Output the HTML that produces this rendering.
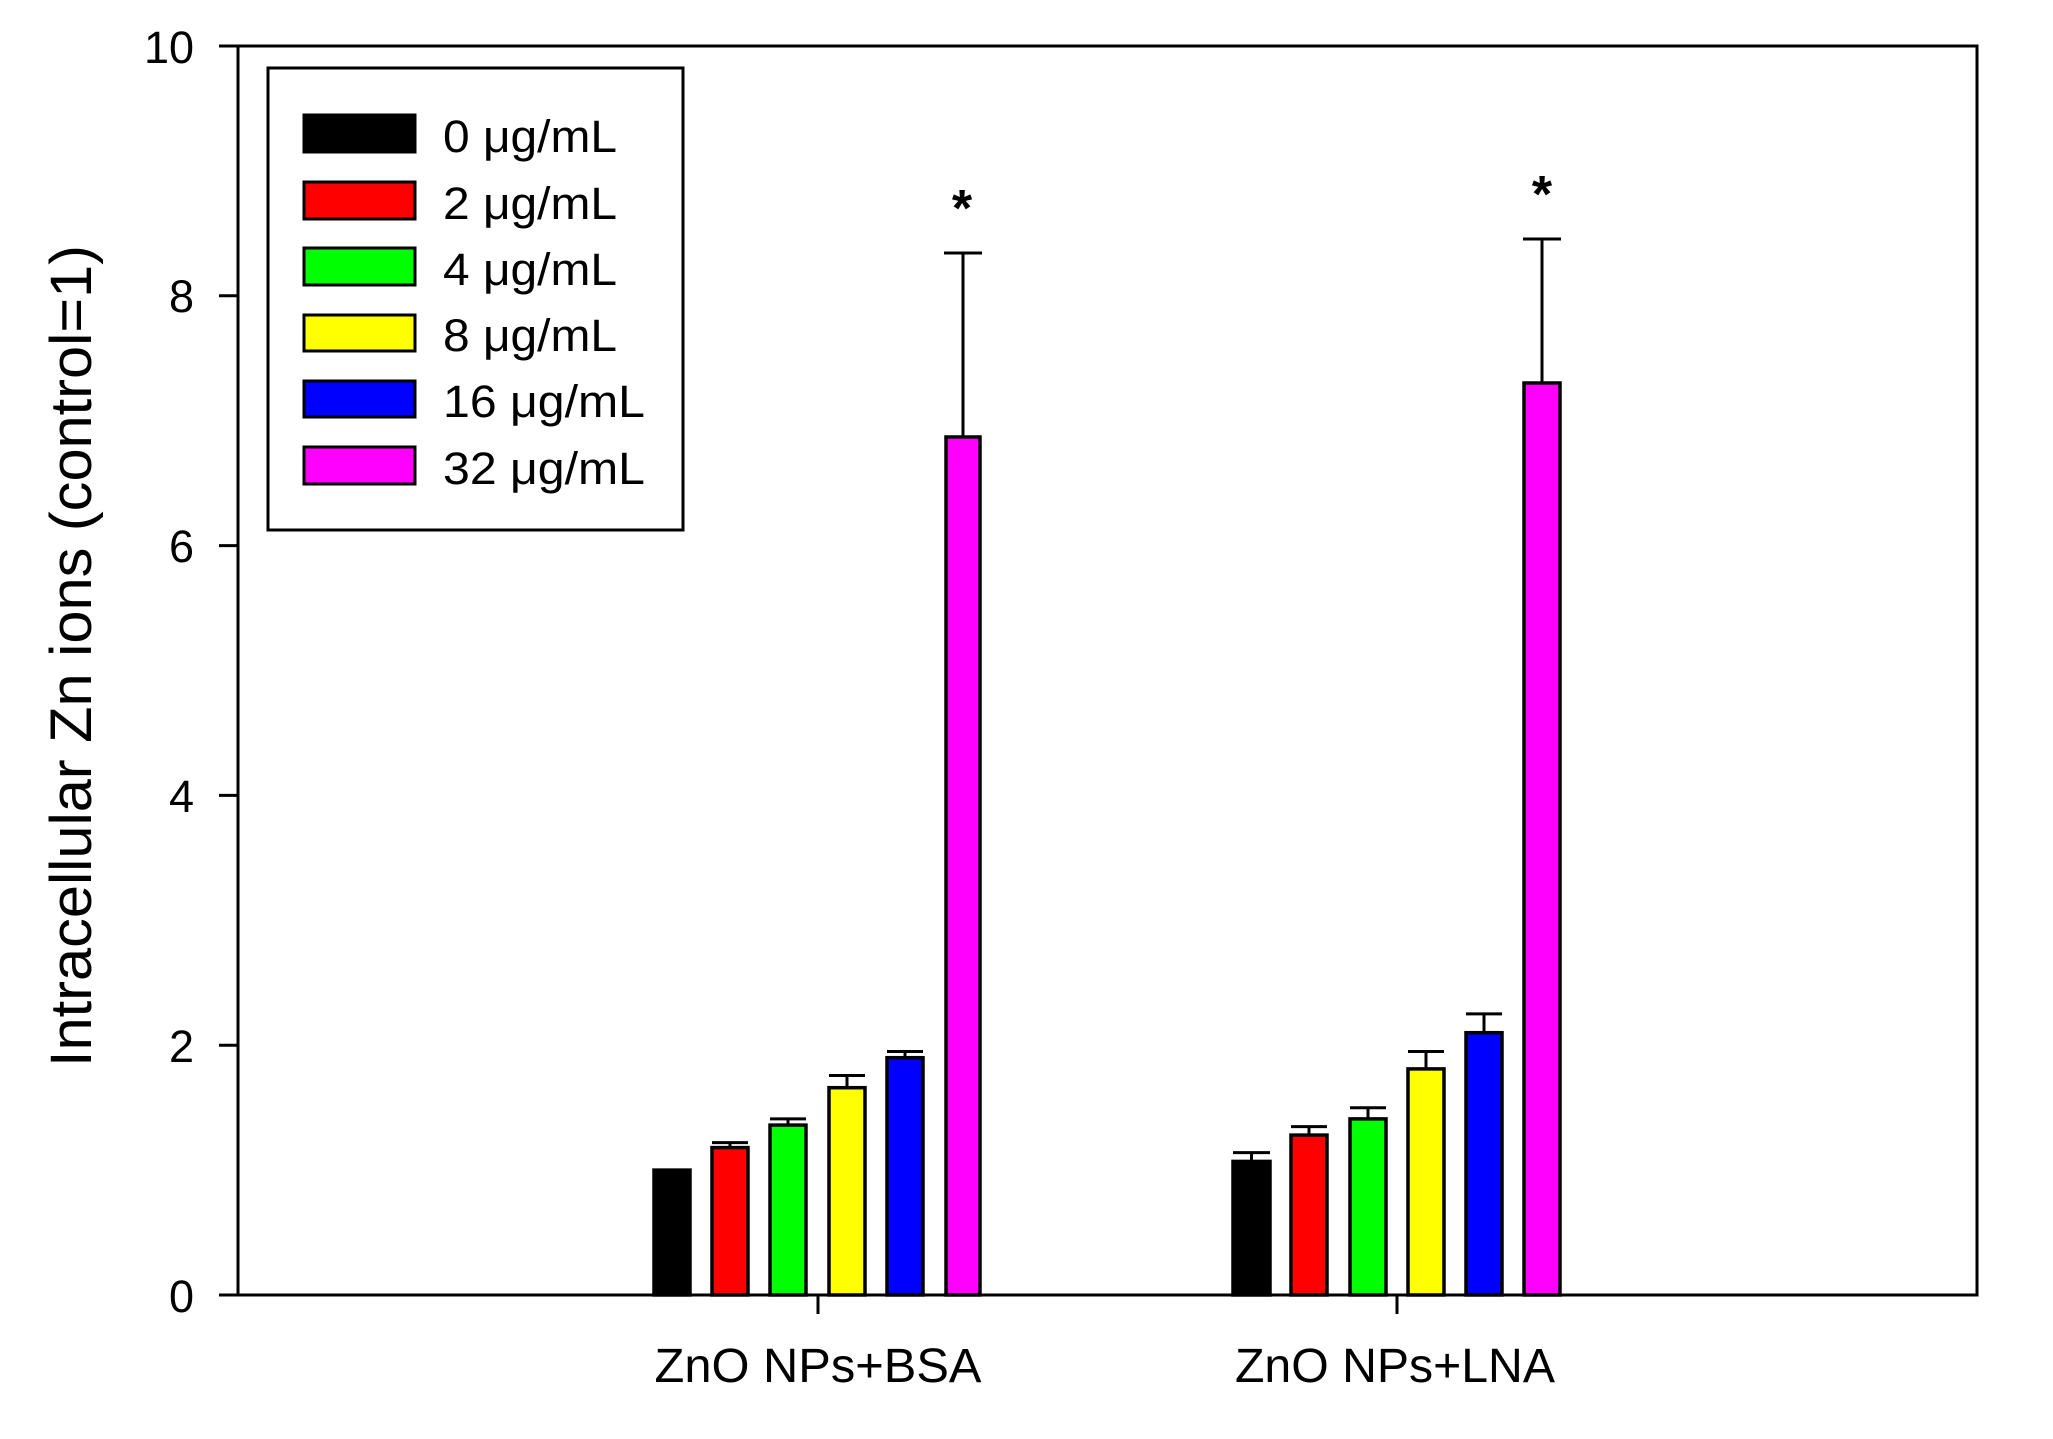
<!DOCTYPE html>
<html><head><meta charset="utf-8"><style>
html,body{margin:0;padding:0;background:#fff;}
svg{display:block;}
text{font-family:"Liberation Sans",Arial,sans-serif;fill:#000;}
</style></head><body>
<svg width="2053" height="1439" viewBox="0 0 2053 1439" xmlns="http://www.w3.org/2000/svg">
<rect width="2053" height="1439" fill="#fff"/>
<rect x="238" y="46" width="1739" height="1249" fill="none" stroke="#000" stroke-width="3"/>
<g stroke="#000" stroke-width="3">
<line x1="219" y1="1295" x2="238" y2="1295"/>
<line x1="219" y1="1045.2" x2="238" y2="1045.2"/>
<line x1="219" y1="795.4" x2="238" y2="795.4"/>
<line x1="219" y1="545.6" x2="238" y2="545.6"/>
<line x1="219" y1="295.8" x2="238" y2="295.8"/>
<line x1="219" y1="46" x2="238" y2="46"/>
<line x1="818" y1="1295" x2="818" y2="1314"/>
<line x1="1397" y1="1295" x2="1397" y2="1314"/>
</g>
<g font-size="45" text-anchor="end">
<text x="194" y="1312">0</text>
<text x="194" y="1062">2</text>
<text x="194" y="812">4</text>
<text x="194" y="562">6</text>
<text x="194" y="312">8</text>
<text x="194" y="63">10</text>
</g>
<text font-size="58" text-anchor="middle" textLength="822" lengthAdjust="spacingAndGlyphs" transform="translate(91,656) rotate(-90)">Intracellular Zn ions (control=1)</text>
<g font-size="48" text-anchor="middle">
<text x="818" y="1382" textLength="327" lengthAdjust="spacingAndGlyphs">ZnO NPs+BSA</text>
<text x="1395" y="1382" textLength="320" lengthAdjust="spacingAndGlyphs">ZnO NPs+LNA</text>
</g>
<g stroke="#000" stroke-width="3.5">
<rect x="654" y="1170.1" width="36" height="124.9" fill="#000"/>
<rect x="712" y="1147.6" width="36" height="147.4" fill="#ff0000"/>
<rect x="770" y="1125.1" width="36" height="169.9" fill="#00ff00"/>
<rect x="829" y="1087.7" width="36" height="207.3" fill="#ffff00"/>
<rect x="887" y="1057.7" width="36" height="237.3" fill="#0000ff"/>
<rect x="946" y="437" width="34" height="858" fill="#ff00ff"/>
<rect x="1233" y="1161.4" width="37" height="133.6" fill="#000"/>
<rect x="1291" y="1135.1" width="36" height="159.9" fill="#ff0000"/>
<rect x="1350" y="1118.9" width="36" height="176.1" fill="#00ff00"/>
<rect x="1408" y="1068.9" width="36" height="226.1" fill="#ffff00"/>
<rect x="1466" y="1032.7" width="36" height="262.3" fill="#0000ff"/>
<rect x="1524" y="383" width="36" height="912" fill="#ff00ff"/>
</g>
<g stroke="#000" stroke-width="3" fill="none">
<path d="M730 1147.6V1142.6M712 1142.6H748"/>
<path d="M788 1125.1V1118.9M770 1118.9H806"/>
<path d="M847 1087.7V1075.5M829 1075.5H865"/>
<path d="M905 1057.7V1051.5M887 1051.5H923"/>
<path d="M963 437V253M944 253H982"/>
<path d="M1251.5 1161.4V1152.6M1233 1152.6H1270"/>
<path d="M1309 1135.1V1126.6M1291 1126.6H1327"/>
<path d="M1368 1118.9V1107.7M1350 1107.7H1386"/>
<path d="M1426 1068.9V1051.5M1408 1051.5H1444"/>
<path d="M1484 1032.7V1013.9M1466 1013.9H1502"/>
<path d="M1542 383V239M1523 239H1561"/>
</g>
<g font-size="52" font-weight="bold" text-anchor="middle">
<text x="962" y="226">*</text>
<text x="1542" y="212">*</text>
</g>
<rect x="268" y="68" width="415" height="462" fill="#fff" stroke="#000" stroke-width="3"/>
<g stroke="#000" stroke-width="3">
<rect x="304" y="115" width="111" height="37" fill="#000"/>
<rect x="304" y="182" width="111" height="37" fill="#ff0000"/>
<rect x="304" y="248" width="111" height="37" fill="#00ff00"/>
<rect x="304" y="315" width="111" height="36" fill="#ffff00"/>
<rect x="304" y="381" width="111" height="36" fill="#0000ff"/>
<rect x="304" y="447" width="111" height="37" fill="#ff00ff"/>
</g>
<g font-size="45">
<text x="443" y="152" textLength="174" lengthAdjust="spacingAndGlyphs">0 μg/mL</text>
<text x="443" y="219" textLength="174" lengthAdjust="spacingAndGlyphs">2 μg/mL</text>
<text x="443" y="285" textLength="174" lengthAdjust="spacingAndGlyphs">4 μg/mL</text>
<text x="443" y="351" textLength="174" lengthAdjust="spacingAndGlyphs">8 μg/mL</text>
<text x="443" y="417" textLength="202" lengthAdjust="spacingAndGlyphs">16 μg/mL</text>
<text x="443" y="484" textLength="202" lengthAdjust="spacingAndGlyphs">32 μg/mL</text>
</g>
</svg>
</body></html>
